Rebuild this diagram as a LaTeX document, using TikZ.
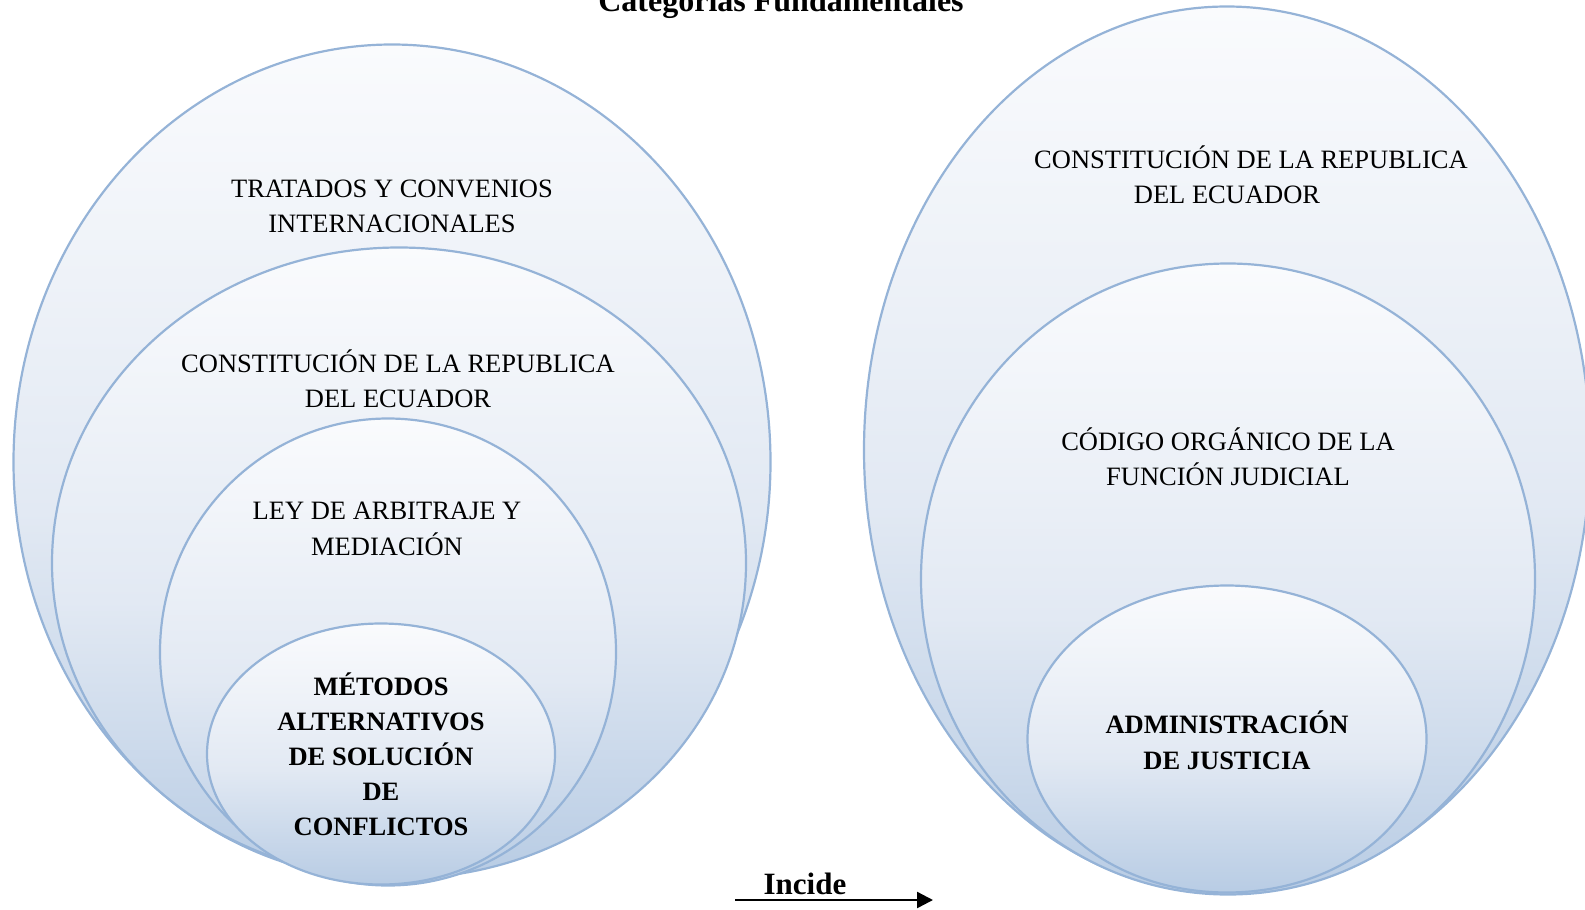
\documentclass[tikz,border=0pt]{standalone}
\usepackage{fontspec}
\setmainfont{Liberation Serif}
\usetikzlibrary{shapes.geometric,arrows.meta}
\definecolor{edgeblue}{HTML}{95B3D7}
\definecolor{ctop}{HTML}{FAFBFD}
\definecolor{cmid}{HTML}{E2E9F3}
\definecolor{cbot}{HTML}{B8CCE4}
\pgfdeclareverticalshading{ellshade}{100bp}{color(0bp)=(cbot); color(25bp)=(cbot); color(47bp)=(cmid); color(75bp)=(ctop); color(100bp)=(ctop)}
\tikzset{
  ell/.style={ellipse, draw=edgeblue, line width=2.2pt, shading=ellshade, inner sep=0pt},
  reg/.style={anchor=base, font=\fontsize{26.5}{30}\selectfont, inner sep=0pt},
  bld/.style={anchor=base, font=\fontsize{26.5}{30}\selectfont\bfseries, inner sep=0pt},
  big/.style={anchor=base, font=\fontsize{32}{36}\selectfont\bfseries, inner sep=0pt},
  arr/.style={line width=2.4pt, -{Triangle[length=16pt,width=16pt]}}
}
\begin{document}
\begin{tikzpicture}[x=1pt,y=-1pt]
\useasboundingbox (0,0) rectangle (1585,910);
\clip (0,0) rectangle (1585,910);
% left ellipses
\node[ell, minimum width=757pt, minimum height=835pt] (L1) at (392,462) {};
\node[ell, minimum width=694pt, minimum height=631pt] (L2) at (399,563) {};
\node[ell, minimum width=456pt, minimum height=467pt] (L3) at (388,652) {};
\node[ell, minimum width=348pt, minimum height=261pt] (L4) at (381,754) {};
% right ellipses
\node[ell, minimum width=726pt, minimum height=887pt] (R1) at (1227,450) {};
\node[ell, minimum width=614pt, minimum height=631pt] (R2) at (1228,579) {};
\node[ell, minimum width=399pt, minimum height=307pt] (R3) at (1227,739) {};
% title
\node[big] (title) at (781,12) {Categorías Fundamentales};
% left texts
\node[reg] (t1a) at (392,197) {TRATADOS Y CONVENIOS};
\node[reg] (t1b) at (392,232) {INTERNACIONALES};
\node[reg] (t2a) at (398,372) {CONSTITUCIÓN DE LA REPUBLICA};
\node[reg] (t2b) at (398,407) {DEL ECUADOR};
\node[reg] (t3a) at (387,519.5) {LEY DE ARBITRAJE Y};
\node[reg] (t3b) at (387,555) {MEDIACIÓN};
\node[bld] (t4a) at (381,695) {MÉTODOS};
\node[bld] (t4b) at (381,730) {ALTERNATIVOS};
\node[bld] (t4c) at (381,765) {DE SOLUCIÓN};
\node[bld] (t4d) at (381,800) {DE};
\node[bld] (t4e) at (381,835) {CONFLICTOS};
% right texts
\node[reg] (r1a) at (1251,168) {CONSTITUCIÓN DE LA REPUBLICA};
\node[reg] (r1b) at (1227,203) {DEL ECUADOR};
\node[reg] (r2a) at (1228,450) {CÓDIGO ORGÁNICO DE LA};
\node[reg] (r2b) at (1228,485) {FUNCIÓN JUDICIAL};
\node[bld] (r3a) at (1227,733) {ADMINISTRACIÓN};
\node[bld] (r3b) at (1227,769) {DE JUSTICIA};
% arrow
\node[big, font=\fontsize{31}{34}\selectfont\bfseries] (inc) at (805,894) {Incide};
\coordinate (as) at (735,900);
\coordinate (ae) at (933,900);
\draw[arr] (as) -- (ae);
\end{tikzpicture}
\end{document}
